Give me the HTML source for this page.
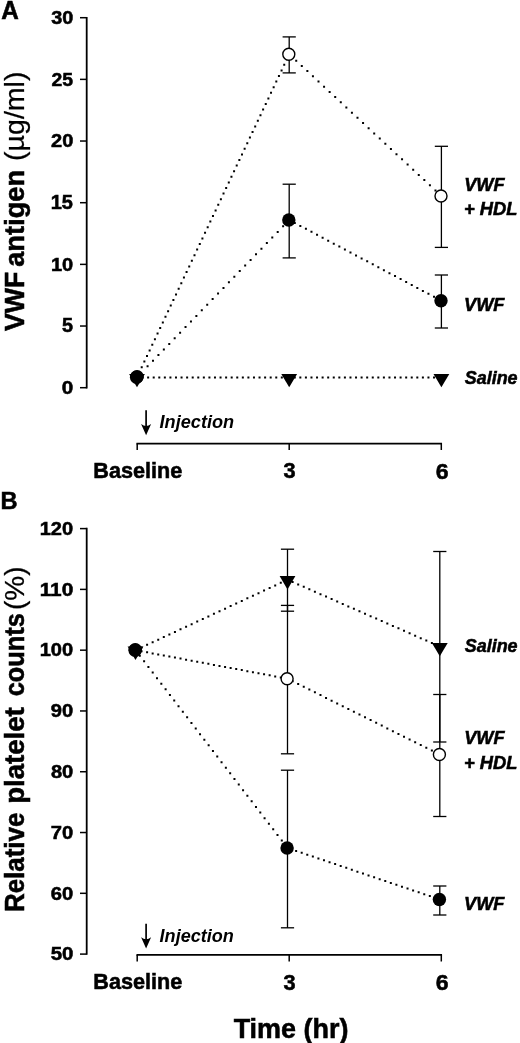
<!DOCTYPE html>
<html><head><meta charset="utf-8"><title>Figure</title>
<style>
html,body{margin:0;padding:0;background:#fff}
svg{display:block}
text{font-family:"Liberation Sans",sans-serif;fill:#000;white-space:pre;stroke:#000;stroke-width:0.55px}
</style></head>
<body>
<svg width="520" height="1043" viewBox="0 0 520 1043">
<rect width="520" height="1043" fill="#fff"/>
<line x1="86.70" y1="16.95" x2="86.70" y2="388.45" stroke="#000" stroke-width="1.8"/>
<line x1="80.00" y1="387.70" x2="86.70" y2="387.70" stroke="#000" stroke-width="1.5"/>
<line x1="80.00" y1="326.03" x2="86.70" y2="326.03" stroke="#000" stroke-width="1.5"/>
<line x1="80.00" y1="264.37" x2="86.70" y2="264.37" stroke="#000" stroke-width="1.5"/>
<line x1="80.00" y1="202.70" x2="86.70" y2="202.70" stroke="#000" stroke-width="1.5"/>
<line x1="80.00" y1="141.03" x2="86.70" y2="141.03" stroke="#000" stroke-width="1.5"/>
<line x1="80.00" y1="79.37" x2="86.70" y2="79.37" stroke="#000" stroke-width="1.5"/>
<line x1="80.00" y1="17.70" x2="86.70" y2="17.70" stroke="#000" stroke-width="1.5"/>
<line x1="136.45" y1="443.60" x2="442.05" y2="443.60" stroke="#000" stroke-width="1.8"/>
<line x1="137.20" y1="443.60" x2="137.20" y2="450.00" stroke="#000" stroke-width="1.5"/>
<line x1="289.20" y1="443.60" x2="289.20" y2="450.00" stroke="#000" stroke-width="1.5"/>
<line x1="441.30" y1="443.60" x2="441.30" y2="450.00" stroke="#000" stroke-width="1.5"/>
<text transform="translate(61.70,393.90) scale(1.0753,1)" style="font-size:19.20px;font-weight:bold">0</text>
<text transform="translate(61.91,332.23) scale(1.0178,1)" style="font-size:19.48px;font-weight:bold">5</text>
<text transform="translate(50.91,270.57) scale(1.0414,1)" style="font-size:19.20px;font-weight:bold">10</text>
<text transform="translate(50.75,208.90) scale(1.0259,1)" style="font-size:19.48px;font-weight:bold">15</text>
<text transform="translate(51.02,147.23) scale(1.0432,1)" style="font-size:19.20px;font-weight:bold">20</text>
<text transform="translate(51.39,85.57) scale(1.0091,1)" style="font-size:19.20px;font-weight:bold">25</text>
<text transform="translate(51.21,23.90) scale(1.0335,1)" style="font-size:19.20px;font-weight:bold">30</text>
<text transform="translate(1.16,19.10) scale(0.9706,1)" style="font-size:25.00px;font-weight:bold">A</text>
<text transform="translate(23.70,331.11) rotate(-90) scale(0.9905,1)" style="font-size:27.00px;font-weight:bold">VWF</text>
<text transform="translate(23.70,266.79) rotate(-90) scale(1.0095,1)" style="font-size:27.00px;font-weight:bold">antigen</text>
<text transform="translate(23.70,160.88) rotate(-90) scale(1.0573,1)" style="font-size:27.00px;;stroke-width:0.25px">(µg/ml)</text>
<text transform="translate(159.57,427.90) scale(0.9594,1)" style="font-size:18.90px;font-weight:bold;font-style:italic;stroke:none">Injection</text>
<line x1="146.10" y1="410.30" x2="146.10" y2="432.30" stroke="#000" stroke-width="1.7"/>
<path d="M146.10,435.30L141.10,424.10Q146.10,428.10 151.10,424.10z" fill="#000"/>
<text transform="translate(93.31,477.60) scale(0.9723,1)" style="font-size:22.24px;font-weight:bold">Baseline</text>
<text transform="translate(283.59,478.40) scale(0.9799,1)" style="font-size:22.21px;font-weight:bold">3</text>
<text transform="translate(435.63,478.80) scale(1.0316,1)" style="font-size:22.35px;font-weight:bold">6</text>
<text transform="translate(464.22,191.00) scale(0.9758,1)" style="font-size:18.60px;font-weight:bold;font-style:italic">VWF</text>
<text transform="translate(464.05,215.20) scale(1.0070,1)" style="font-size:18.17px;font-weight:bold;font-style:italic">+ HDL</text>
<text transform="translate(464.08,310.70) scale(0.9618,1)" style="font-size:18.90px;font-weight:bold;font-style:italic">VWF</text>
<text transform="translate(464.79,384.00) scale(0.9634,1)" style="font-size:18.62px;font-weight:bold;font-style:italic">Saline</text>
<path d="M140.72,366.18h2.0v2.0h-2.0zM143.36,360.58h2.0v2.0h-2.0zM146.00,354.98h2.0v2.0h-2.0zM148.64,349.38h2.0v2.0h-2.0zM151.28,343.78h2.0v2.0h-2.0zM153.92,338.18h2.0v2.0h-2.0zM156.56,332.58h2.0v2.0h-2.0zM159.19,326.98h2.0v2.0h-2.0zM161.83,321.38h2.0v2.0h-2.0zM164.47,315.78h2.0v2.0h-2.0zM167.11,310.18h2.0v2.0h-2.0zM169.75,304.58h2.0v2.0h-2.0zM172.39,298.98h2.0v2.0h-2.0zM175.03,293.38h2.0v2.0h-2.0zM177.67,287.78h2.0v2.0h-2.0zM180.30,282.18h2.0v2.0h-2.0zM182.94,276.58h2.0v2.0h-2.0zM185.58,270.98h2.0v2.0h-2.0zM188.22,265.38h2.0v2.0h-2.0zM190.86,259.78h2.0v2.0h-2.0zM193.50,254.18h2.0v2.0h-2.0zM196.14,248.58h2.0v2.0h-2.0zM198.78,242.98h2.0v2.0h-2.0zM201.41,237.38h2.0v2.0h-2.0zM204.05,231.78h2.0v2.0h-2.0zM206.69,226.18h2.0v2.0h-2.0zM209.33,220.58h2.0v2.0h-2.0zM211.97,214.98h2.0v2.0h-2.0zM214.61,209.38h2.0v2.0h-2.0zM217.25,203.78h2.0v2.0h-2.0zM219.89,198.18h2.0v2.0h-2.0zM222.52,192.58h2.0v2.0h-2.0zM225.16,186.98h2.0v2.0h-2.0zM227.80,181.38h2.0v2.0h-2.0zM230.44,175.78h2.0v2.0h-2.0zM233.08,170.18h2.0v2.0h-2.0zM235.72,164.58h2.0v2.0h-2.0zM238.36,158.98h2.0v2.0h-2.0zM241.00,153.38h2.0v2.0h-2.0zM243.64,147.78h2.0v2.0h-2.0zM246.27,142.18h2.0v2.0h-2.0zM248.91,136.58h2.0v2.0h-2.0zM251.55,130.98h2.0v2.0h-2.0zM254.19,125.38h2.0v2.0h-2.0zM256.83,119.78h2.0v2.0h-2.0zM259.47,114.18h2.0v2.0h-2.0zM262.11,108.58h2.0v2.0h-2.0zM264.75,102.98h2.0v2.0h-2.0zM267.38,97.38h2.0v2.0h-2.0zM270.02,91.78h2.0v2.0h-2.0zM272.66,86.18h2.0v2.0h-2.0zM275.30,80.58h2.0v2.0h-2.0zM277.94,74.98h2.0v2.0h-2.0zM280.58,69.38h2.0v2.0h-2.0zM283.22,63.78h2.0v2.0h-2.0zM285.86,58.18h2.0v2.0h-2.0z" fill="#000"/>
<path d="M295.22,59.74h2.0v2.0h-2.0zM300.79,64.93h2.0v2.0h-2.0zM306.36,70.12h2.0v2.0h-2.0zM311.93,75.31h2.0v2.0h-2.0zM317.50,80.50h2.0v2.0h-2.0zM323.07,85.69h2.0v2.0h-2.0zM328.64,90.88h2.0v2.0h-2.0zM334.21,96.06h2.0v2.0h-2.0zM339.78,101.25h2.0v2.0h-2.0zM345.35,106.44h2.0v2.0h-2.0zM350.92,111.63h2.0v2.0h-2.0zM356.49,116.82h2.0v2.0h-2.0zM362.06,122.01h2.0v2.0h-2.0zM367.63,127.20h2.0v2.0h-2.0zM373.20,132.39h2.0v2.0h-2.0zM378.77,137.58h2.0v2.0h-2.0zM384.34,142.77h2.0v2.0h-2.0zM389.91,147.96h2.0v2.0h-2.0zM395.48,153.15h2.0v2.0h-2.0zM401.05,158.34h2.0v2.0h-2.0zM406.62,163.53h2.0v2.0h-2.0zM412.19,168.72h2.0v2.0h-2.0zM417.76,173.91h2.0v2.0h-2.0zM423.33,179.09h2.0v2.0h-2.0zM428.90,184.28h2.0v2.0h-2.0zM434.47,189.47h2.0v2.0h-2.0zM440.04,194.66h2.0v2.0h-2.0z" fill="#000"/>
<path d="M146.57,365.28h2.0v2.0h-2.0zM151.99,359.68h2.0v2.0h-2.0zM157.42,354.08h2.0v2.0h-2.0zM162.84,348.48h2.0v2.0h-2.0zM168.26,342.88h2.0v2.0h-2.0zM173.68,337.28h2.0v2.0h-2.0zM179.10,331.68h2.0v2.0h-2.0zM184.53,326.08h2.0v2.0h-2.0zM189.95,320.48h2.0v2.0h-2.0zM195.37,314.88h2.0v2.0h-2.0zM200.79,309.28h2.0v2.0h-2.0zM206.21,303.68h2.0v2.0h-2.0zM211.64,298.08h2.0v2.0h-2.0zM217.06,292.48h2.0v2.0h-2.0zM222.48,286.88h2.0v2.0h-2.0zM227.90,281.28h2.0v2.0h-2.0zM233.32,275.68h2.0v2.0h-2.0zM238.74,270.08h2.0v2.0h-2.0zM244.17,264.48h2.0v2.0h-2.0zM249.59,258.88h2.0v2.0h-2.0zM255.01,253.28h2.0v2.0h-2.0zM260.43,247.68h2.0v2.0h-2.0zM265.85,242.08h2.0v2.0h-2.0zM271.28,236.48h2.0v2.0h-2.0zM276.70,230.88h2.0v2.0h-2.0zM282.12,225.28h2.0v2.0h-2.0zM287.54,219.68h2.0v2.0h-2.0z" fill="#000"/>
<path d="M293.77,221.95h2.0v2.0h-2.0zM299.34,224.91h2.0v2.0h-2.0zM304.91,227.86h2.0v2.0h-2.0zM310.48,230.81h2.0v2.0h-2.0zM316.05,233.77h2.0v2.0h-2.0zM321.62,236.72h2.0v2.0h-2.0zM327.19,239.67h2.0v2.0h-2.0zM332.76,242.63h2.0v2.0h-2.0zM338.33,245.58h2.0v2.0h-2.0zM343.90,248.53h2.0v2.0h-2.0zM349.47,251.49h2.0v2.0h-2.0zM355.04,254.44h2.0v2.0h-2.0zM360.61,257.39h2.0v2.0h-2.0zM366.18,260.35h2.0v2.0h-2.0zM371.75,263.30h2.0v2.0h-2.0zM377.32,266.25h2.0v2.0h-2.0zM382.89,269.21h2.0v2.0h-2.0zM388.46,272.16h2.0v2.0h-2.0zM394.03,275.11h2.0v2.0h-2.0zM399.60,278.07h2.0v2.0h-2.0zM405.17,281.02h2.0v2.0h-2.0zM410.74,283.97h2.0v2.0h-2.0zM416.31,286.93h2.0v2.0h-2.0zM421.88,289.88h2.0v2.0h-2.0zM427.45,292.83h2.0v2.0h-2.0zM433.02,295.79h2.0v2.0h-2.0zM438.59,298.74h2.0v2.0h-2.0z" fill="#000"/>
<path d="M141.57,376.50h2.0v2.0h-2.0zM147.14,376.50h2.0v2.0h-2.0zM152.71,376.50h2.0v2.0h-2.0zM158.28,376.50h2.0v2.0h-2.0zM163.85,376.50h2.0v2.0h-2.0zM169.42,376.50h2.0v2.0h-2.0zM174.99,376.50h2.0v2.0h-2.0zM180.56,376.50h2.0v2.0h-2.0zM186.13,376.50h2.0v2.0h-2.0zM191.70,376.50h2.0v2.0h-2.0zM197.27,376.50h2.0v2.0h-2.0zM202.84,376.50h2.0v2.0h-2.0zM208.41,376.50h2.0v2.0h-2.0zM213.98,376.50h2.0v2.0h-2.0zM219.55,376.50h2.0v2.0h-2.0zM225.12,376.50h2.0v2.0h-2.0zM230.69,376.50h2.0v2.0h-2.0zM236.26,376.50h2.0v2.0h-2.0zM241.83,376.50h2.0v2.0h-2.0zM247.40,376.50h2.0v2.0h-2.0zM252.97,376.50h2.0v2.0h-2.0zM258.54,376.50h2.0v2.0h-2.0zM264.11,376.50h2.0v2.0h-2.0zM269.68,376.50h2.0v2.0h-2.0zM275.25,376.50h2.0v2.0h-2.0zM280.82,376.50h2.0v2.0h-2.0zM286.39,376.50h2.0v2.0h-2.0z" fill="#000"/>
<path d="M293.77,376.50h2.0v2.0h-2.0zM299.34,376.50h2.0v2.0h-2.0zM304.91,376.50h2.0v2.0h-2.0zM310.48,376.50h2.0v2.0h-2.0zM316.05,376.50h2.0v2.0h-2.0zM321.62,376.50h2.0v2.0h-2.0zM327.19,376.50h2.0v2.0h-2.0zM332.76,376.50h2.0v2.0h-2.0zM338.33,376.50h2.0v2.0h-2.0zM343.90,376.50h2.0v2.0h-2.0zM349.47,376.50h2.0v2.0h-2.0zM355.04,376.50h2.0v2.0h-2.0zM360.61,376.50h2.0v2.0h-2.0zM366.18,376.50h2.0v2.0h-2.0zM371.75,376.50h2.0v2.0h-2.0zM377.32,376.50h2.0v2.0h-2.0zM382.89,376.50h2.0v2.0h-2.0zM388.46,376.50h2.0v2.0h-2.0zM394.03,376.50h2.0v2.0h-2.0zM399.60,376.50h2.0v2.0h-2.0zM405.17,376.50h2.0v2.0h-2.0zM410.74,376.50h2.0v2.0h-2.0zM416.31,376.50h2.0v2.0h-2.0zM421.88,376.50h2.0v2.0h-2.0zM427.45,376.50h2.0v2.0h-2.0zM433.02,376.50h2.0v2.0h-2.0zM438.59,376.50h2.0v2.0h-2.0z" fill="#000"/>
<line x1="289.20" y1="36.90" x2="289.20" y2="72.90" stroke="#000" stroke-width="1.3"/>
<line x1="282.60" y1="36.90" x2="295.80" y2="36.90" stroke="#000" stroke-width="1.3"/>
<line x1="282.60" y1="72.90" x2="295.80" y2="72.90" stroke="#000" stroke-width="1.3"/>
<line x1="441.40" y1="146.30" x2="441.40" y2="247.40" stroke="#000" stroke-width="1.3"/>
<line x1="434.80" y1="146.30" x2="448.00" y2="146.30" stroke="#000" stroke-width="1.3"/>
<line x1="434.80" y1="247.40" x2="448.00" y2="247.40" stroke="#000" stroke-width="1.3"/>
<line x1="289.20" y1="184.20" x2="289.20" y2="257.90" stroke="#000" stroke-width="1.3"/>
<line x1="282.60" y1="184.20" x2="295.80" y2="184.20" stroke="#000" stroke-width="1.3"/>
<line x1="282.60" y1="257.90" x2="295.80" y2="257.90" stroke="#000" stroke-width="1.3"/>
<line x1="441.40" y1="275.00" x2="441.40" y2="328.00" stroke="#000" stroke-width="1.3"/>
<line x1="434.80" y1="275.00" x2="448.00" y2="275.00" stroke="#000" stroke-width="1.3"/>
<line x1="434.80" y1="328.00" x2="448.00" y2="328.00" stroke="#000" stroke-width="1.3"/>
<circle cx="136.60" cy="377.20" r="6.7" fill="#000"/>
<circle cx="288.80" cy="220.00" r="6.7" fill="#000"/>
<circle cx="441.00" cy="300.70" r="6.7" fill="#000"/>
<path d="M129.10,373.90h15.8L137.00,387.30z" fill="#000"/>
<path d="M281.30,373.90h15.8L289.20,387.30z" fill="#000"/>
<path d="M433.50,373.90h15.8L441.40,387.30z" fill="#000"/>
<circle cx="137.10" cy="376.80" r="6.0" fill="none" stroke="#000" stroke-width="1.4"/>
<circle cx="288.80" cy="54.20" r="6.0" fill="#fff" stroke="#000" stroke-width="1.4"/>
<circle cx="441.00" cy="196.00" r="6.0" fill="#fff" stroke="#000" stroke-width="1.4"/>
<line x1="86.70" y1="527.85" x2="86.70" y2="954.85" stroke="#000" stroke-width="1.8"/>
<line x1="80.00" y1="954.10" x2="86.70" y2="954.10" stroke="#000" stroke-width="1.5"/>
<line x1="80.00" y1="893.31" x2="86.70" y2="893.31" stroke="#000" stroke-width="1.5"/>
<line x1="80.00" y1="832.53" x2="86.70" y2="832.53" stroke="#000" stroke-width="1.5"/>
<line x1="80.00" y1="771.74" x2="86.70" y2="771.74" stroke="#000" stroke-width="1.5"/>
<line x1="80.00" y1="710.96" x2="86.70" y2="710.96" stroke="#000" stroke-width="1.5"/>
<line x1="80.00" y1="650.17" x2="86.70" y2="650.17" stroke="#000" stroke-width="1.5"/>
<line x1="80.00" y1="589.39" x2="86.70" y2="589.39" stroke="#000" stroke-width="1.5"/>
<line x1="80.00" y1="528.60" x2="86.70" y2="528.60" stroke="#000" stroke-width="1.5"/>
<line x1="136.45" y1="954.90" x2="442.05" y2="954.90" stroke="#000" stroke-width="1.8"/>
<line x1="137.20" y1="954.90" x2="137.20" y2="961.50" stroke="#000" stroke-width="1.5"/>
<line x1="289.20" y1="954.90" x2="289.20" y2="961.50" stroke="#000" stroke-width="1.5"/>
<line x1="441.30" y1="954.90" x2="441.30" y2="961.50" stroke="#000" stroke-width="1.5"/>
<text transform="translate(50.64,960.30) scale(1.0626,1)" style="font-size:19.20px;font-weight:bold">50</text>
<text transform="translate(50.80,899.51) scale(1.0516,1)" style="font-size:19.20px;font-weight:bold">60</text>
<text transform="translate(50.73,838.73) scale(1.0508,1)" style="font-size:19.20px;font-weight:bold">70</text>
<text transform="translate(50.90,777.94) scale(1.0491,1)" style="font-size:19.20px;font-weight:bold">80</text>
<text transform="translate(50.82,717.16) scale(1.0496,1)" style="font-size:19.20px;font-weight:bold">90</text>
<text transform="translate(39.73,656.37) scale(1.0438,1)" style="font-size:19.20px;font-weight:bold">100</text>
<text transform="translate(39.66,595.59) scale(1.0852,1)" style="font-size:19.20px;font-weight:bold">110</text>
<text transform="translate(39.73,534.80) scale(1.0438,1)" style="font-size:19.20px;font-weight:bold">120</text>
<text transform="translate(0.49,508.70) scale(0.9557,1)" style="font-size:24.71px;font-weight:bold">B</text>
<text transform="translate(23.70,912.07) rotate(-90) scale(0.9603,1)" style="font-size:27.00px;font-weight:bold">Relative</text>
<text transform="translate(23.70,803.76) rotate(-90) scale(1.0210,1)" style="font-size:27.00px;font-weight:bold">platelet</text>
<text transform="translate(23.70,696.29) rotate(-90) scale(0.9405,1)" style="font-size:27.00px;font-weight:bold">counts</text>
<text transform="translate(23.70,610.09) rotate(-90) scale(1.0376,1)" style="font-size:27.00px;;stroke-width:0.25px">(%)</text>
<text transform="translate(159.57,941.80) scale(0.9567,1)" style="font-size:18.90px;font-weight:bold;font-style:italic;stroke:none">Injection</text>
<line x1="146.10" y1="923.80" x2="146.10" y2="945.40" stroke="#000" stroke-width="1.7"/>
<path d="M146.10,948.40L141.10,937.20Q146.10,941.20 151.10,937.20z" fill="#000"/>
<text transform="translate(93.31,989.20) scale(0.9723,1)" style="font-size:22.24px;font-weight:bold">Baseline</text>
<text transform="translate(283.59,989.90) scale(0.9799,1)" style="font-size:22.21px;font-weight:bold">3</text>
<text transform="translate(435.63,990.20) scale(1.0392,1)" style="font-size:22.21px;font-weight:bold">6</text>
<text transform="translate(464.79,652.00) scale(0.9634,1)" style="font-size:18.62px;font-weight:bold;font-style:italic">Saline</text>
<text transform="translate(464.22,744.00) scale(0.9758,1)" style="font-size:18.60px;font-weight:bold;font-style:italic">VWF</text>
<text transform="translate(464.07,768.50) scale(1.0052,1)" style="font-size:18.17px;font-weight:bold;font-style:italic">+ HDL</text>
<text transform="translate(464.08,910.00) scale(0.9618,1)" style="font-size:18.90px;font-weight:bold;font-style:italic">VWF</text>
<text transform="translate(233.65,1037.50) scale(0.9761,1)" style="font-size:27.62px;font-weight:bold">Time (hr)</text>
<path d="M140.52,646.38h2.0v2.0h-2.0zM146.09,643.80h2.0v2.0h-2.0zM151.66,641.22h2.0v2.0h-2.0zM157.23,638.64h2.0v2.0h-2.0zM162.80,636.05h2.0v2.0h-2.0zM168.37,633.47h2.0v2.0h-2.0zM173.94,630.89h2.0v2.0h-2.0zM179.51,628.31h2.0v2.0h-2.0zM185.08,625.72h2.0v2.0h-2.0zM190.65,623.14h2.0v2.0h-2.0zM196.22,620.56h2.0v2.0h-2.0zM201.79,617.98h2.0v2.0h-2.0zM207.36,615.39h2.0v2.0h-2.0zM212.93,612.81h2.0v2.0h-2.0zM218.50,610.23h2.0v2.0h-2.0zM224.07,607.65h2.0v2.0h-2.0zM229.64,605.06h2.0v2.0h-2.0zM235.21,602.48h2.0v2.0h-2.0zM240.78,599.90h2.0v2.0h-2.0zM246.35,597.32h2.0v2.0h-2.0zM251.92,594.73h2.0v2.0h-2.0zM257.49,592.15h2.0v2.0h-2.0zM263.06,589.57h2.0v2.0h-2.0zM268.63,586.99h2.0v2.0h-2.0zM274.20,584.40h2.0v2.0h-2.0zM279.77,581.82h2.0v2.0h-2.0zM285.34,579.24h2.0v2.0h-2.0z" fill="#000"/>
<path d="M291.62,580.95h2.0v2.0h-2.0zM297.19,583.39h2.0v2.0h-2.0zM302.76,585.83h2.0v2.0h-2.0zM308.33,588.28h2.0v2.0h-2.0zM313.90,590.72h2.0v2.0h-2.0zM319.47,593.16h2.0v2.0h-2.0zM325.04,595.61h2.0v2.0h-2.0zM330.61,598.05h2.0v2.0h-2.0zM336.18,600.49h2.0v2.0h-2.0zM341.75,602.94h2.0v2.0h-2.0zM347.32,605.38h2.0v2.0h-2.0zM352.89,607.82h2.0v2.0h-2.0zM358.46,610.26h2.0v2.0h-2.0zM364.03,612.71h2.0v2.0h-2.0zM369.60,615.15h2.0v2.0h-2.0zM375.17,617.59h2.0v2.0h-2.0zM380.74,620.04h2.0v2.0h-2.0zM386.31,622.48h2.0v2.0h-2.0zM391.88,624.92h2.0v2.0h-2.0zM397.45,627.37h2.0v2.0h-2.0zM403.02,629.81h2.0v2.0h-2.0zM408.59,632.25h2.0v2.0h-2.0zM414.16,634.69h2.0v2.0h-2.0zM419.73,637.14h2.0v2.0h-2.0zM425.30,639.58h2.0v2.0h-2.0zM430.87,642.02h2.0v2.0h-2.0zM436.44,644.47h2.0v2.0h-2.0z" fill="#000"/>
<path d="M140.52,650.30h2.0v2.0h-2.0zM146.09,651.35h2.0v2.0h-2.0zM151.66,652.39h2.0v2.0h-2.0zM157.23,653.44h2.0v2.0h-2.0zM162.80,654.48h2.0v2.0h-2.0zM168.37,655.53h2.0v2.0h-2.0zM173.94,656.57h2.0v2.0h-2.0zM179.51,657.62h2.0v2.0h-2.0zM185.08,658.66h2.0v2.0h-2.0zM190.65,659.71h2.0v2.0h-2.0zM196.22,660.75h2.0v2.0h-2.0zM201.79,661.80h2.0v2.0h-2.0zM207.36,662.85h2.0v2.0h-2.0zM212.93,663.89h2.0v2.0h-2.0zM218.50,664.94h2.0v2.0h-2.0zM224.07,665.98h2.0v2.0h-2.0zM229.64,667.03h2.0v2.0h-2.0zM235.21,668.07h2.0v2.0h-2.0zM240.78,669.12h2.0v2.0h-2.0zM246.35,670.16h2.0v2.0h-2.0zM251.92,671.21h2.0v2.0h-2.0zM257.49,672.25h2.0v2.0h-2.0zM263.06,673.30h2.0v2.0h-2.0zM268.63,674.35h2.0v2.0h-2.0zM274.20,675.39h2.0v2.0h-2.0zM279.77,676.44h2.0v2.0h-2.0zM285.34,677.48h2.0v2.0h-2.0z" fill="#000"/>
<path d="M291.62,680.25h2.0v2.0h-2.0zM297.19,683.02h2.0v2.0h-2.0zM302.76,685.79h2.0v2.0h-2.0zM308.33,688.57h2.0v2.0h-2.0zM313.90,691.34h2.0v2.0h-2.0zM319.47,694.11h2.0v2.0h-2.0zM325.04,696.88h2.0v2.0h-2.0zM330.61,699.66h2.0v2.0h-2.0zM336.18,702.43h2.0v2.0h-2.0zM341.75,705.20h2.0v2.0h-2.0zM347.32,707.97h2.0v2.0h-2.0zM352.89,710.74h2.0v2.0h-2.0zM358.46,713.52h2.0v2.0h-2.0zM364.03,716.29h2.0v2.0h-2.0zM369.60,719.06h2.0v2.0h-2.0zM375.17,721.83h2.0v2.0h-2.0zM380.74,724.61h2.0v2.0h-2.0zM386.31,727.38h2.0v2.0h-2.0zM391.88,730.15h2.0v2.0h-2.0zM397.45,732.92h2.0v2.0h-2.0zM403.02,735.69h2.0v2.0h-2.0zM408.59,738.47h2.0v2.0h-2.0zM414.16,741.24h2.0v2.0h-2.0zM419.73,744.01h2.0v2.0h-2.0zM425.30,746.78h2.0v2.0h-2.0zM430.87,749.56h2.0v2.0h-2.0zM436.44,752.33h2.0v2.0h-2.0z" fill="#000"/>
<path d="M138.80,654.77h2.0v2.0h-2.0zM143.11,660.37h2.0v2.0h-2.0zM147.41,665.97h2.0v2.0h-2.0zM151.71,671.57h2.0v2.0h-2.0zM156.01,677.17h2.0v2.0h-2.0zM160.32,682.77h2.0v2.0h-2.0zM164.62,688.37h2.0v2.0h-2.0zM168.92,693.97h2.0v2.0h-2.0zM173.22,699.57h2.0v2.0h-2.0zM177.53,705.17h2.0v2.0h-2.0zM181.83,710.77h2.0v2.0h-2.0zM186.13,716.37h2.0v2.0h-2.0zM190.44,721.97h2.0v2.0h-2.0zM194.74,727.57h2.0v2.0h-2.0zM199.04,733.17h2.0v2.0h-2.0zM203.34,738.77h2.0v2.0h-2.0zM207.65,744.37h2.0v2.0h-2.0zM211.95,749.97h2.0v2.0h-2.0zM216.25,755.57h2.0v2.0h-2.0zM220.55,761.17h2.0v2.0h-2.0zM224.86,766.77h2.0v2.0h-2.0zM229.16,772.37h2.0v2.0h-2.0zM233.46,777.97h2.0v2.0h-2.0zM237.77,783.57h2.0v2.0h-2.0zM242.07,789.17h2.0v2.0h-2.0zM246.37,794.77h2.0v2.0h-2.0zM250.67,800.37h2.0v2.0h-2.0zM254.98,805.97h2.0v2.0h-2.0zM259.28,811.57h2.0v2.0h-2.0zM263.58,817.17h2.0v2.0h-2.0zM267.88,822.77h2.0v2.0h-2.0zM272.19,828.37h2.0v2.0h-2.0zM276.49,833.97h2.0v2.0h-2.0zM280.79,839.57h2.0v2.0h-2.0zM285.10,845.17h2.0v2.0h-2.0z" fill="#000"/>
<path d="M295.13,849.92h2.0v2.0h-2.0zM300.70,851.80h2.0v2.0h-2.0zM306.27,853.69h2.0v2.0h-2.0zM311.84,855.57h2.0v2.0h-2.0zM317.41,857.45h2.0v2.0h-2.0zM322.98,859.34h2.0v2.0h-2.0zM328.55,861.22h2.0v2.0h-2.0zM334.12,863.10h2.0v2.0h-2.0zM339.69,864.99h2.0v2.0h-2.0zM345.26,866.87h2.0v2.0h-2.0zM350.83,868.75h2.0v2.0h-2.0zM356.40,870.64h2.0v2.0h-2.0zM361.97,872.52h2.0v2.0h-2.0zM367.54,874.40h2.0v2.0h-2.0zM373.11,876.29h2.0v2.0h-2.0zM378.68,878.17h2.0v2.0h-2.0zM384.25,880.06h2.0v2.0h-2.0zM389.82,881.94h2.0v2.0h-2.0zM395.39,883.82h2.0v2.0h-2.0zM400.96,885.71h2.0v2.0h-2.0zM406.53,887.59h2.0v2.0h-2.0zM412.10,889.47h2.0v2.0h-2.0zM417.67,891.36h2.0v2.0h-2.0zM423.24,893.24h2.0v2.0h-2.0zM428.81,895.12h2.0v2.0h-2.0zM434.38,897.01h2.0v2.0h-2.0z" fill="#000"/>
<line x1="287.50" y1="549.20" x2="287.50" y2="611.20" stroke="#000" stroke-width="1.3"/>
<line x1="280.90" y1="549.20" x2="294.10" y2="549.20" stroke="#000" stroke-width="1.3"/>
<line x1="280.90" y1="611.20" x2="294.10" y2="611.20" stroke="#000" stroke-width="1.3"/>
<line x1="439.80" y1="551.50" x2="439.80" y2="742.00" stroke="#000" stroke-width="1.3"/>
<line x1="433.20" y1="551.50" x2="446.40" y2="551.50" stroke="#000" stroke-width="1.3"/>
<line x1="433.20" y1="742.00" x2="446.40" y2="742.00" stroke="#000" stroke-width="1.3"/>
<line x1="287.50" y1="605.40" x2="287.50" y2="753.80" stroke="#000" stroke-width="1.3"/>
<line x1="280.90" y1="605.40" x2="294.10" y2="605.40" stroke="#000" stroke-width="1.3"/>
<line x1="280.90" y1="753.80" x2="294.10" y2="753.80" stroke="#000" stroke-width="1.3"/>
<line x1="439.80" y1="694.50" x2="439.80" y2="816.50" stroke="#000" stroke-width="1.3"/>
<line x1="433.20" y1="694.50" x2="446.40" y2="694.50" stroke="#000" stroke-width="1.3"/>
<line x1="433.20" y1="816.50" x2="446.40" y2="816.50" stroke="#000" stroke-width="1.3"/>
<line x1="287.50" y1="770.20" x2="287.50" y2="927.80" stroke="#000" stroke-width="1.3"/>
<line x1="280.90" y1="770.20" x2="294.10" y2="770.20" stroke="#000" stroke-width="1.3"/>
<line x1="280.90" y1="927.80" x2="294.10" y2="927.80" stroke="#000" stroke-width="1.3"/>
<line x1="439.80" y1="886.00" x2="439.80" y2="915.00" stroke="#000" stroke-width="1.3"/>
<line x1="433.20" y1="886.00" x2="446.40" y2="886.00" stroke="#000" stroke-width="1.3"/>
<line x1="433.20" y1="915.00" x2="446.40" y2="915.00" stroke="#000" stroke-width="1.3"/>
<circle cx="135.10" cy="650.17" r="6.7" fill="#000"/>
<circle cx="287.10" cy="848.00" r="6.7" fill="#000"/>
<circle cx="439.40" cy="899.50" r="6.7" fill="#000"/>
<path d="M127.60,646.57h15.8L135.50,659.97z" fill="#000"/>
<path d="M279.60,576.10h15.8L287.50,589.50z" fill="#000"/>
<path d="M431.90,642.90h15.8L439.80,656.30z" fill="#000"/>
<circle cx="135.30" cy="649.67" r="6.0" fill="none" stroke="#000" stroke-width="1.4"/>
<circle cx="287.10" cy="678.70" r="6.0" fill="#fff" stroke="#000" stroke-width="1.4"/>
<circle cx="439.40" cy="754.50" r="6.0" fill="#fff" stroke="#000" stroke-width="1.4"/>
</svg>
</body></html>
